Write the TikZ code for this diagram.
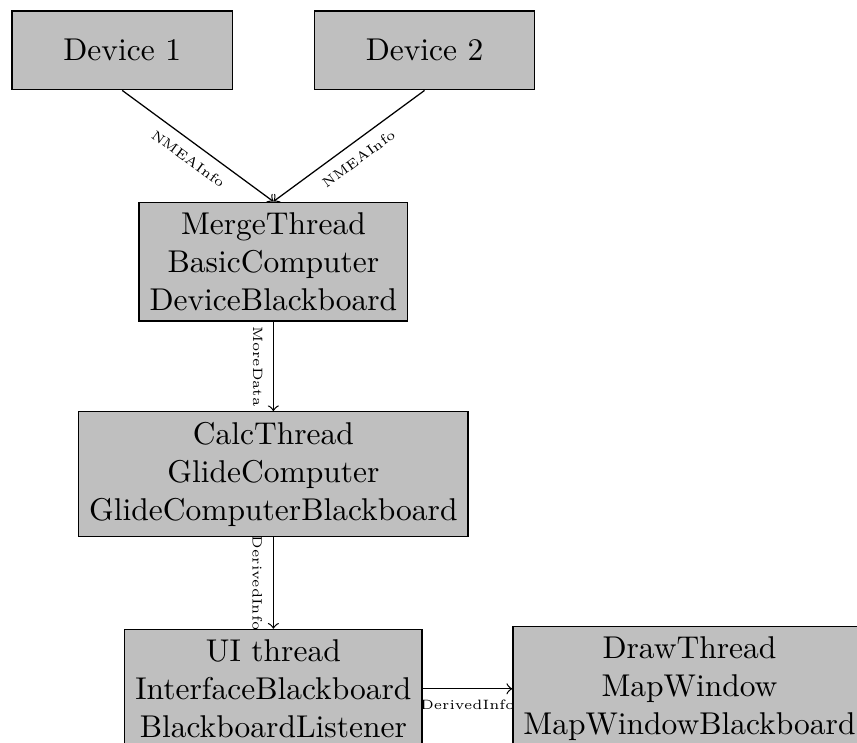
\documentclass[tikz,border=0pt]{standalone}
\usetikzlibrary{positioning,calc}

\begin{document}
\begin{tikzpicture}[auto,flowlabel/.style={font=\fontsize{4.3pt}{5pt}\selectfont,midway,sloped,below}]

	\useasboundingbox (-38.8pt,16pt) rectangle (233.3pt,-219.6pt);

	\begin{scope}[every node/.style={draw,rectangle,fill=lightgray,align=center}]
		\node[minimum width=7em,minimum height=2.5em] (dev1) at (0,0) {Device 1};
		\node[minimum width=7em,minimum height=2.5em] (dev2) at (dev1.east) [right=0.9cm] {Device 2};
		\node (merge) at ($(dev1.south)!0.5!(dev2.south)$) [below=1.24cm] {MergeThread\\BasicComputer\\DeviceBlackboard};
		\node (calc) at (merge.south) [below=1cm] {CalcThread\\GlideComputer\\GlideComputerBlackboard};
		\node (ui) at (calc.south) [below=1.02cm] {UI thread\\InterfaceBlackboard\\BlackboardListener};
		\node (drawth) at (ui.east) [right=1cm] {DrawThread\\MapWindow\\MapWindowBlackboard};
	\end{scope}

	\draw[->] (dev1.south) -- node[flowlabel] {NMEAInfo} (merge.north);
	\draw[->] (dev2.south) -- node[flowlabel] {NMEAInfo} (merge.north);
	\draw[->] (merge) -- node[flowlabel] {MoreData} (calc);
	\draw[->] (calc) -- node[flowlabel] {DerivedInfo} (ui);
	\draw[->] (ui) -- node[flowlabel] {DerivedInfo} (drawth);

\end{tikzpicture}
\end{document}
